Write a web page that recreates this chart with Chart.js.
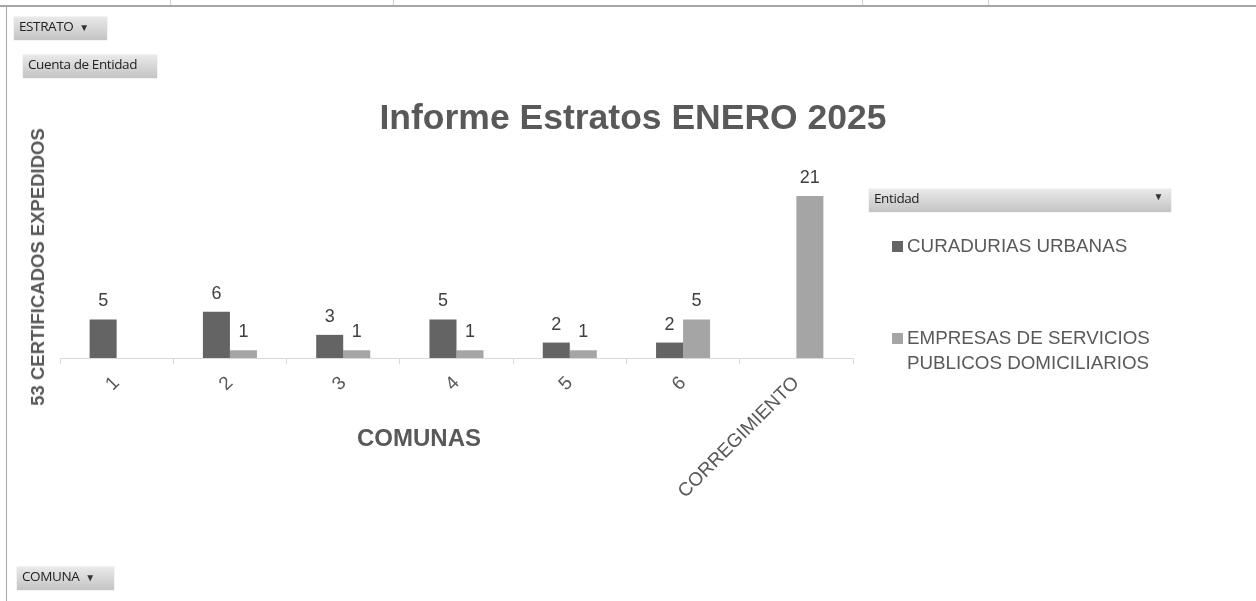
<!DOCTYPE html>
<html>
<head>
<meta charset="utf-8">
<script src="https://cdn.jsdelivr.net/npm/chart.js@4"></script>
<style>
  body { margin: 0; width: 1256px; height: 601px; background: #fff; overflow: hidden; position: relative; font-family: "Liberation Sans", Arial, sans-serif; }
  #frame-top { position: absolute; left: 0; top: 5px; width: 1256px; height: 2px; background: #a6a6a6; }
  #frame-left { position: absolute; left: 6px; top: 5px; width: 1px; height: 596px; background: #a6a6a6; }
  .cell { position: absolute; top: 0; width: 1px; height: 5px; background: #d0d0d0; }
  .btn { position: absolute; height: 23px; line-height: 23px; padding: 0 5px; font: 13.5px "Open Sans", sans-serif; letter-spacing: -0.4px; color: #222;
         background: linear-gradient(#e9e9e9, #c4c4c4); box-shadow: 0 0 1px #bbb; box-sizing: border-box; white-space: nowrap; }
  .btn .arr { font-size: 10px; margin-left: 6px; color: #333; }
  #wrap { position: absolute; left: 0; top: 0; width: 1256px; height: 601px; }
  .txt { position: absolute; color: #595959; white-space: nowrap; }
  #title { left: 0; width: 1266px; top: 97px; text-align: center; font-weight: bold; font-size: 35.5px; }
  #xt { left: 419px; top: 424px; transform: translateX(-50%); font-weight: bold; font-size: 24px; }
  #yt { left: 38px; top: 267px; transform: translate(-50%, -50%) rotate(-90deg); font-weight: bold; font-size: 18.5px; }
  .leg { position: absolute; left: 892px; font-size: 18.8px; color: #595959; line-height: 25px; }
  .leg i { display: inline-block; width: 11px; height: 11px; margin-right: 4px; }
</style>
</head>
<body>
<div id="frame-top"></div>
<div id="frame-left"></div>
<div class="cell" style="left:170px"></div>
<div class="cell" style="left:393px"></div>
<div class="cell" style="left:862px"></div>
<div class="cell" style="left:988px"></div>

<div id="wrap"><canvas id="c"></canvas></div>

<div class="btn" style="left:14px;top:17px;width:93px">ESTRATO<span class="arr">&#9660;</span></div>
<div class="btn" style="left:23px;top:55px;width:134px">Cuenta de Entidad</div>
<div class="btn" style="left:17px;top:567px;width:97px">COMUNA<span class="arr">&#9660;</span></div>
<div class="btn" style="left:869px;top:189px;width:302px">Entidad<span class="arr" style="position:absolute;right:8px">&#9660;</span></div>

<div class="txt" id="title">Informe Estratos ENERO 2025</div>
<div class="txt" id="xt">COMUNAS</div>
<div class="txt" id="yt">53 CERTIFICADOS EXPEDIDOS</div>

<div class="leg" style="top:233px"><i style="background:#646464"></i>CURADURIAS URBANAS</div>
<div class="leg" style="top:325px"><i style="background:#a5a5a5"></i>EMPRESAS DE SERVICIOS<br><span style="margin-left:15px">PUBLICOS DOMICILIARIOS</span></div>

<script>
const comunas = ['1', '2', '3', '4', '5', '6', 'CORREGIMIENTO'];
const curadurias = [5, 6, 3, 5, 2, 2, null];
const empresas = [null, 1, 1, 1, 1, 5, 21];

// etiquetas de valor encima de cada barra
const valueLabels = {
    id: 'valueLabels',
    afterDatasetsDraw(chart) {
        const ctx = chart.ctx;
        ctx.save();
        ctx.font = '18px "Liberation Sans", Arial, sans-serif';
        ctx.fillStyle = '#404040';
        ctx.textAlign = 'center';
        ctx.textBaseline = 'bottom';
        chart.data.datasets.forEach((ds, i) => {
            chart.getDatasetMeta(i).data.forEach((bar, j) => {
                if (ds.data[j] == null) return;
                ctx.fillText(ds.data[j], bar.x, bar.y - 9);
            });
        });
        ctx.restore();
    }
};

new Chart(document.getElementById('c'), {
    type: 'bar',
    data: {
        labels: comunas,
        datasets: [
            { label: 'CURADURIAS URBANAS', data: curadurias, backgroundColor: '#646464' },
            { label: 'EMPRESAS DE SERVICIOS PUBLICOS DOMICILIARIOS', data: empresas, backgroundColor: '#a5a5a5' }
        ]
    },
    options: {
        responsive: true,
        maintainAspectRatio: false,
        animation: false,
        categoryPercentage: 0.477,
        barPercentage: 1,
        layout: { padding: { top: 196, left: 60, right: 403, bottom: 0 } },
        plugins: { legend: { display: false }, tooltip: { enabled: false } },
        scales: {
            y: { display: false, min: 0, max: 21 },
            x: {
                afterFit(scale) { scale.height = 243; },
                border: { color: '#d9d9d9' },
                grid: { offset: true, drawOnChartArea: false, color: '#d9d9d9', tickLength: 6 },
                ticks: { minRotation: 45, maxRotation: 45, padding: 8, color: '#595959',
                         font: { family: '"Liberation Sans", Arial, sans-serif', size: 19 } }
            }
        }
    },
    plugins: [valueLabels]
});
</script>
</body>
</html>
